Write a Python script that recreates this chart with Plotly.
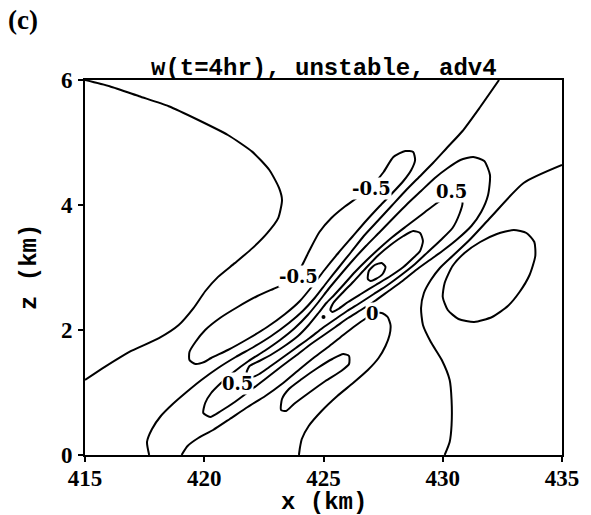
import plotly.graph_objects as go

# ---- axis data -------------------------------------------------------------
x_ticks = [415, 420, 425, 430, 435]
z_ticks = [0, 2, 4, 6]
title_text = "w(t=4hr), unstable, adv4"

# ---- contour lines (x in km, z in km) --------------------------------------
arc_x = [415.00, 416.03, 417.27, 418.51, 419.75, 420.99, 422.02, 422.73, 423.14, 423.26, 423.10,
         422.64, 422.02, 421.28, 420.58, 420.04, 419.55, 418.93, 418.10, 416.86, 415.83, 415.00]
arc_z = [6.00, 5.90, 5.74, 5.58, 5.36, 5.12, 4.85, 4.56, 4.27, 4.08, 3.79,
         3.55, 3.31, 3.07, 2.85, 2.62, 2.35, 2.08, 1.87, 1.65, 1.41, 1.20]

neg_x = [428.76, 428.43, 427.93, 427.52, 427.02, 426.45, 425.87, 425.33, 424.83, 424.42, 424.13,
         423.88, 423.47, 422.89, 422.23, 421.40, 420.66, 420.04, 419.63, 419.38, 419.38, 419.63,
         420.00, 420.29, 420.99, 421.82, 422.64, 423.39, 424.01, 424.50, 425.04, 425.62, 426.20,
         426.78, 427.36, 427.89, 428.35, 428.68, 428.84, 428.76]
neg_z = [4.848, 4.864, 4.768, 4.528, 4.304, 4.128, 3.968, 3.792, 3.568, 3.28, 3.056,
         2.88, 2.752, 2.656, 2.544, 2.368, 2.192, 2.00, 1.808, 1.648, 1.52, 1.456,
         1.488, 1.552, 1.68, 1.856, 2.048, 2.256, 2.464, 2.688, 2.96, 3.232, 3.488,
         3.744, 3.984, 4.192, 4.384, 4.56, 4.72, 4.848]

zero_b_x = [432.36, 431.57, 430.83, 430.17, 429.59, 429.01, 428.43, 427.85, 427.27, 426.69, 426.16,
            425.62, 425.12, 424.63, 424.13, 423.55, 422.81, 422.07, 421.32, 420.58, 419.88, 419.26,
            418.68, 418.18, 417.81, 417.60, 417.69]
zero_b_z = [6.00, 5.568, 5.184, 4.912, 4.672, 4.448, 4.224, 3.984, 3.744, 3.504, 3.248,
            2.992, 2.752, 2.512, 2.304, 2.112, 1.904, 1.728, 1.568, 1.392, 1.20, 1.008,
            0.816, 0.624, 0.416, 0.208, 0.00]

outer_x = [419.96, 420.04, 420.29, 420.70, 421.24, 421.86, 422.52, 423.18, 423.80, 424.34, 424.79,
           425.21, 425.70, 426.24, 426.78, 427.36, 427.93, 428.51, 429.09, 429.67, 430.21, 430.74,
           431.28, 431.74, 431.98, 431.90, 431.61, 431.20, 430.62, 430.04, 429.46, 428.88, 428.31,
           427.73, 427.15, 426.57, 426.03, 425.50, 424.96, 424.42, 423.88, 423.26, 422.56, 421.90,
           421.28, 420.70, 420.25, 419.96]
outer_z = [0.672, 0.832, 0.992, 1.152, 1.328, 1.504, 1.664, 1.84, 2.032, 2.24, 2.448,
           2.656, 2.88, 3.12, 3.344, 3.568, 3.792, 4.016, 4.224, 4.432, 4.592, 4.72,
           4.768, 4.704, 4.48, 4.16, 3.888, 3.664, 3.456, 3.28, 3.12, 2.96, 2.784,
           2.624, 2.464, 2.32, 2.192, 2.048, 1.904, 1.76, 1.60, 1.424, 1.216, 1.024,
           0.848, 0.704, 0.608, 0.672]

pos_x = [421.78, 421.90, 422.31, 422.85, 423.43, 423.93, 424.38, 424.79, 425.12, 425.45, 425.87,
         426.32, 426.82, 427.36, 427.89, 428.43, 428.93, 429.42, 429.88, 430.25, 430.54, 430.74,
         430.83, 430.70, 430.41, 429.92, 429.38, 428.84, 428.26, 427.69, 427.11, 426.53, 425.99,
         425.50, 424.96, 424.42, 423.84, 423.26, 422.73, 422.31, 422.02, 421.82, 421.78]
pos_z = [1.328, 1.424, 1.504, 1.616, 1.76, 1.904, 2.08, 2.272, 2.432, 2.56, 2.736,
         2.928, 3.12, 3.312, 3.488, 3.648, 3.792, 3.936, 4.064, 4.144, 4.176, 4.144,
         4.032, 3.856, 3.632, 3.44, 3.248, 3.056, 2.88, 2.72, 2.576, 2.432, 2.304,
         2.176, 2.032, 1.872, 1.712, 1.552, 1.408, 1.296, 1.248, 1.28, 1.328]

core_x = [425.29, 425.41, 425.79, 426.24, 426.78, 427.31, 427.81, 428.35, 428.76, 429.05, 429.17,
          429.05, 428.76, 428.35, 427.81, 427.19, 426.57, 426.03, 425.62, 425.37, 425.29]
core_z = [2.32, 2.432, 2.592, 2.768, 2.992, 3.20, 3.36, 3.504, 3.584, 3.552, 3.424,
          3.264, 3.152, 3.008, 2.864, 2.72, 2.576, 2.448, 2.336, 2.288, 2.32]

peak_x = [426.86, 426.90, 427.15, 427.44, 427.60, 427.48, 427.19, 426.98, 426.86]
peak_z = [2.816, 2.944, 3.04, 3.072, 3.008, 2.896, 2.816, 2.784, 2.816]

zero_u_x = [419.05, 419.30, 419.75, 420.37, 421.07, 421.82, 422.56, 423.31, 424.01, 424.63, 425.25,
            425.83, 426.32, 426.74, 427.11, 427.44, 427.69, 427.81, 427.77, 427.60, 427.31, 426.86,
            426.24, 425.58, 424.92, 424.38, 424.09, 424.01, 423.97]
zero_u_z = [0.00, 0.144, 0.272, 0.40, 0.576, 0.768, 0.944, 1.152, 1.376, 1.568, 1.744,
            1.92, 2.064, 2.176, 2.256, 2.272, 2.208, 2.08, 1.92, 1.744, 1.552, 1.36,
            1.152, 0.944, 0.704, 0.464, 0.256, 0.112, 0.00]

low_x = [423.22, 423.26, 423.55, 424.09, 424.75, 425.37, 425.83, 426.07, 426.07, 425.74, 425.08,
         424.38, 423.76, 423.43, 423.22]
low_z = [0.72, 0.896, 1.056, 1.216, 1.392, 1.536, 1.616, 1.584, 1.456, 1.344, 1.184,
         0.992, 0.816, 0.704, 0.72]

zero_c_x = [435.00, 433.39, 432.02, 431.12, 430.41, 429.88, 429.50, 429.21, 429.09, 429.17, 429.50,
            429.96, 430.29, 430.37, 430.37, 430.29, 430.08]
zero_c_z = [4.64, 4.352, 3.808, 3.44, 3.184, 2.992, 2.80, 2.592, 2.352, 2.08, 1.808,
            1.52, 1.20, 0.88, 0.48, 0.208, 0.00]

right_x = [430.00, 430.08, 430.41, 430.91, 431.57, 432.27, 432.98, 433.51, 433.84, 433.88, 433.64,
           433.22, 432.73, 432.07, 431.32, 430.66, 430.21, 430.00]
right_z = [2.528, 2.752, 3.024, 3.232, 3.408, 3.536, 3.60, 3.552, 3.408, 3.184, 2.88,
           2.608, 2.384, 2.208, 2.128, 2.176, 2.32, 2.528]

speck_x = [425.00]
speck_z = [2.21]

label_text = ["-0.5", "-0.5", "0.5", "0.5", "0"]
label_x = [427.02, 423.97, 430.37, 421.40, 427.07]
label_z = [4.26, 2.85, 4.21, 1.15, 2.27]

# ---- figure ---------------------------------------------------------------
lines = [(arc_x, arc_z), (neg_x, neg_z), (zero_b_x, zero_b_z), (outer_x, outer_z),
         (pos_x, pos_z), (core_x, core_z), (peak_x, peak_z), (zero_u_x, zero_u_z),
         (low_x, low_z), (zero_c_x, zero_c_z), (right_x, right_z)]

fig = go.Figure()
for xs, zs in lines:
    fig.add_trace(go.Scatter(x=xs, y=zs, mode="lines",
                             line=dict(color="black", width=2, shape="spline", smoothing=0.6),
                             hoverinfo="skip", showlegend=False))
fig.add_trace(go.Scatter(x=speck_x, y=speck_z, mode="markers",
                         marker=dict(color="black", size=4), hoverinfo="skip", showlegend=False))

for t, lx, lz in zip(label_text, label_x, label_z):
    fig.add_annotation(x=lx, y=lz, text=t, showarrow=False, bgcolor="white", borderpad=0,
                       font=dict(family="DejaVu Serif", size=18, color="black", weight="bold"))

mono = "Liberation Mono"
serif = "Liberation Serif"
fig.add_annotation(xref="paper", yref="paper", x=0.5, y=1, yanchor="bottom", yshift=-4,
                   text=title_text, showarrow=False,
                   font=dict(family=mono, size=24, color="black", weight="bold"))
fig.add_annotation(xref="paper", yref="paper", x=0.5, y=0, yanchor="top", yshift=-32,
                   text="x (km)", showarrow=False,
                   font=dict(family=mono, size=24, color="black", weight="bold"))
fig.add_annotation(xref="paper", yref="paper", x=0, y=0.5, xanchor="right", xshift=-40,
                   text="z (km)", showarrow=False, textangle=-90,
                   font=dict(family=mono, size=24, color="black", weight="bold"))
fig.add_annotation(xref="paper", yref="paper", x=-0.165, y=1.16, xanchor="left", yanchor="middle",
                   text="(c)", showarrow=False,
                   font=dict(family=serif, size=27, color="black", weight="bold"))

axis_common = dict(showline=True, mirror=True, linecolor="black", linewidth=2,
                   ticks="outside", ticklen=5, tickwidth=2, tickcolor="black",
                   showgrid=False, zeroline=False,
                   tickfont=dict(family=serif, size=23, color="black", weight="bold"))
fig.update_xaxes(range=[415, 435], tickvals=x_ticks, ticktext=[str(v) for v in x_ticks],
                 ticklabelstandoff=-4, **axis_common)
fig.update_yaxes(range=[0, 6], tickvals=z_ticks, ticktext=[str(v) for v in z_ticks],
                 ticklabelstandoff=1, **axis_common)

fig.update_layout(width=591, height=515, margin=dict(l=85, r=22, t=80, b=60),
                  paper_bgcolor="white", plot_bgcolor="white", showlegend=False)

fig.write_html("out.html")
